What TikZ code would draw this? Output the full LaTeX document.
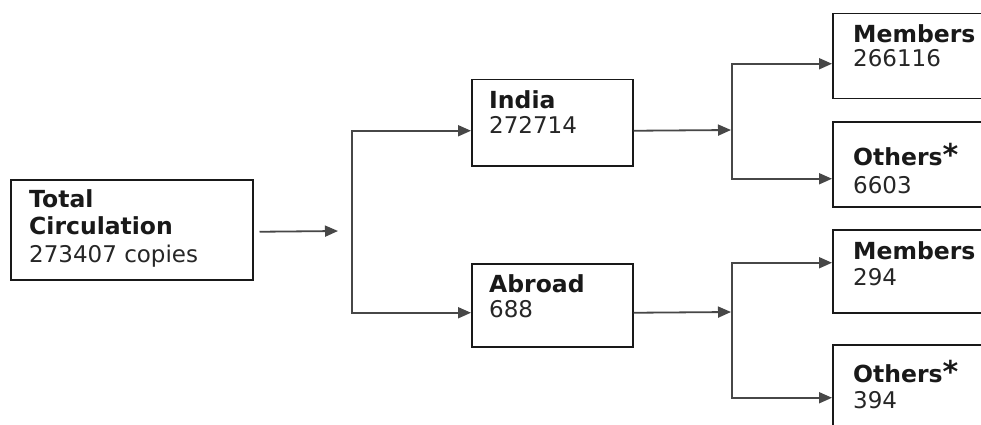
\documentclass[tikz,border=0pt]{standalone}
\usepackage{fontspec}
\setmainfont{DejaVu Sans}
\usetikzlibrary{arrows.meta}
\begin{document}
\begin{tikzpicture}[x=1pt,y=-1pt,
  box/.style={draw=black!90,line width=1.5pt,anchor=north west,inner sep=0pt},
  head/.style={anchor=base west,inner sep=0pt,font=\fontsize{23.5}{23.5}\selectfont\bfseries,text=black!90},
  num/.style={anchor=base west,inner sep=0pt,font=\fontsize{23}{23}\selectfont,text=black!85},
  conn/.style={draw=black!72,line width=1.8pt},
  arr/.style={conn,-{Triangle[length=13pt,width=11pt]}}]
\useasboundingbox (0,0) rectangle (981,425);
\clip (0,0) rectangle (981,425);
\fill[white] (0,0) rectangle (981,425);
% boxes
\node[box,minimum width=242pt,minimum height=100pt] (total) at (10,179) {};
\node[box,minimum width=161pt,minimum height=86pt] (india) at (471,79) {};
\node[box,minimum width=161pt,minimum height=83pt] (abroad) at (471,263) {};
\node[box,minimum width=200pt,minimum height=85pt] (mem1) at (832,13) {};
\node[box,minimum width=200pt,minimum height=85pt] (oth1) at (832,121) {};
\node[box,minimum width=200pt,minimum height=83pt] (mem2) at (832,229) {};
\node[box,minimum width=200pt,minimum height=120pt] (oth2) at (832,344) {};
% texts
\newcommand{\bigast}{\fontsize{30}{30}\selectfont *}
\node[head] (totalh1) at (29,207) {Total};
\node[head] (totalh2) at (29,234) {Circulation};
\node[num] (totaln) at (29,262) {273407 copies};
\node[head] (indiah) at (489,108) {India};
\node[num] (indian) at (489,133) {272714};
\node[head] (abroadh) at (489,292) {Abroad};
\node[num] (abroadn) at (489,317) {688};
\node[head] (mem1h) at (853,43) {Members};
\node[num] (mem1n) at (853,67) {266116};
\node[head] (oth1h) at (853,165) {Others\bigast};
\node[num] (oth1n) at (853,193) {6603};
\node[head] (mem2h) at (853,259) {Members};
\node[num] (mem2n) at (853,285) {294};
\node[head] (oth2h) at (853,382) {Others\bigast};
\node[num] (oth2n) at (853,408) {394};
% junctions
\coordinate (j1) at (352,231);
\coordinate (j2) at (732,130);
\coordinate (j3) at (732,312);
% connectors
\draw[arr] ([xshift=6pt,yshift=-2pt]total.east) -- ([xshift=-14pt]j1);
\draw[arr] (j1) |- ([yshift=-8pt]india.west);
\draw[arr] (j1) |- ([yshift=-7.5pt]abroad.west);
\draw[arr] ([yshift=-8pt]india.east) -- ([xshift=-1pt]j2);
\draw[arr] (j2) |- ([yshift=-7.5pt]mem1.west);
\draw[arr] (j2) |- ([yshift=-14.5pt]oth1.west);
\draw[arr] ([yshift=-7.5pt]abroad.east) -- ([xshift=-1pt]j3);
\draw[arr] (j3) |- ([yshift=8.5pt]mem2.west);
\draw[arr] (j3) |- ([yshift=7pt]oth2.west);
\end{tikzpicture}
\end{document}
